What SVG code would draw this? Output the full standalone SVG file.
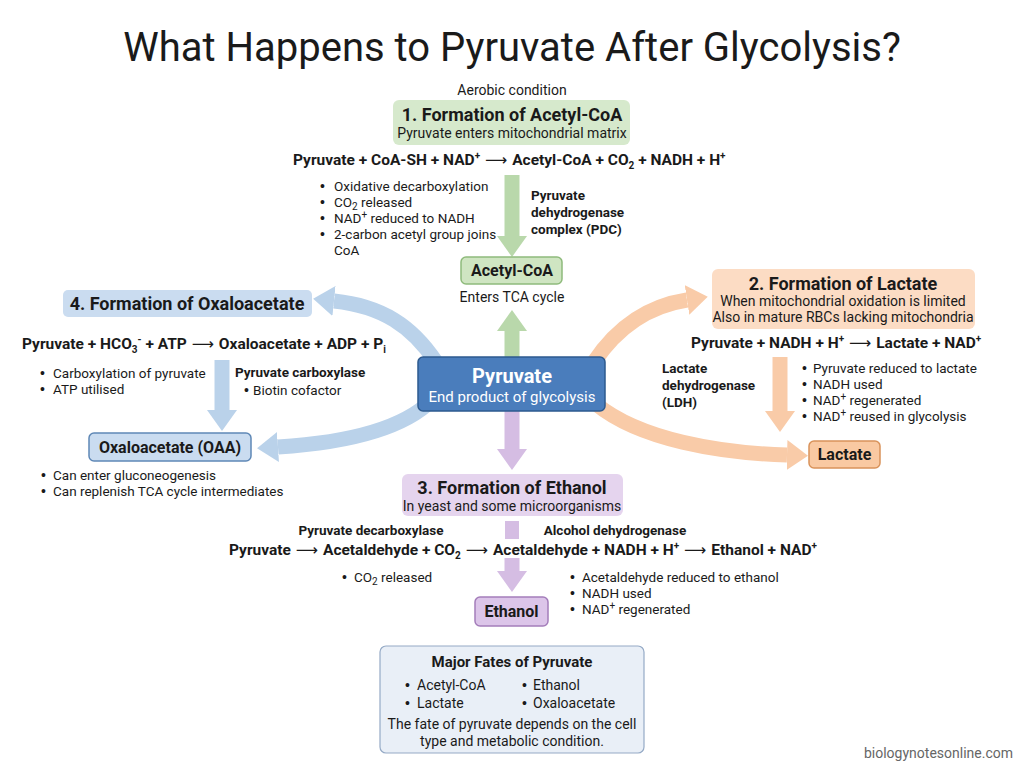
<svg xmlns="http://www.w3.org/2000/svg" width="1024" height="765" viewBox="0 0 1024 765">
<style>
text{font-family:Roboto,"Liberation Sans",sans-serif;fill:#1a1a1a}
.t{font-size:40px}
.h{font-size:18px;font-weight:bold;text-anchor:middle}
.s{font-size:14px;text-anchor:middle}
.eq{font-size:15.5px;font-weight:bold}
.b{font-size:13.5px}
.en{font-size:13.5px;font-weight:bold}
.n{font-size:16px;font-weight:bold;text-anchor:middle}
.m{text-anchor:middle}
.sup{font-size:10px}
.bu{font-family:"Liberation Sans",sans-serif;font-size:14px}
.ar{font-family:"DejaVu Sans",sans-serif;font-weight:normal}
</style>
<defs>
<marker id="hg" markerUnits="userSpaceOnUse" markerWidth="24" markerHeight="32" viewBox="0 -16 24 32" refX="0" refY="0" orient="auto"><path d="M0,-15 L21,0 L0,15 z" fill="#b9d8ab"/></marker>
<marker id="hb" markerUnits="userSpaceOnUse" markerWidth="24" markerHeight="32" viewBox="0 -16 24 32" refX="0" refY="0" orient="auto"><path d="M0,-15 L21,0 L0,15 z" fill="#bad2ea"/></marker>
<marker id="ho" markerUnits="userSpaceOnUse" markerWidth="24" markerHeight="32" viewBox="0 -16 24 32" refX="0" refY="0" orient="auto"><path d="M0,-15 L21,0 L0,15 z" fill="#f9cba8"/></marker>
<marker id="hp" markerUnits="userSpaceOnUse" markerWidth="24" markerHeight="32" viewBox="0 -16 24 32" refX="0" refY="0" orient="auto"><path d="M0,-15 L21,0 L0,15 z" fill="#d5bde3"/></marker>
</defs>
<rect width="1024" height="765" fill="#ffffff"/>
<text class="t m" x="512" y="61">What Happens to Pyruvate After Glycolysis?</text>

<g id="connectors" fill="none" stroke-width="15">
<path d="M512,175 V236" stroke="#b9d8ab" marker-end="url(#hg)"/>
<path d="M512,357 V331" stroke="#b9d8ab" marker-end="url(#hg)"/>
<path d="M512,411 V449" stroke="#d5bde3" marker-end="url(#hp)"/>
<rect x="505" y="521" width="14" height="18" fill="#d5bde3" stroke="none"/>
<path d="M512,558 V571" stroke="#d5bde3" marker-end="url(#hp)"/>
<path d="M222,360 V410" stroke="#bad2ea" marker-end="url(#hb)"/>
<path d="M780,357 V411" stroke="#f9cba8" marker-end="url(#ho)"/>
<path d="M436,362 C412,326 382,306 334,301" stroke="#bad2ea" marker-end="url(#hb)"/>
<path d="M432,400 C402,430 342,443 278,447" stroke="#bad2ea" marker-end="url(#hb)"/>
<path d="M594,362 C618,326 648,306 687,300" stroke="#f9cba8" marker-end="url(#ho)"/>
<path d="M596,404 C640,440 720,453 787,455" stroke="#f9cba8" marker-end="url(#ho)"/>
</g>

<g id="acetyl-section">
<text class="s" x="512" y="95">Aerobic condition</text>
<rect x="393" y="100" width="237" height="45" rx="6" fill="#d6e9cc"/>
<text class="h" x="512" y="121">1. Formation of Acetyl-CoA</text>
<text class="s" x="512" y="138">Pyruvate enters mitochondrial matrix</text>
<text class="eq" x="293" y="165">Pyruvate + CoA-SH + NAD<tspan class="sup" dy="-6">+</tspan><tspan dy="6" class="ar"> ⟶ </tspan>Acetyl-CoA + CO<tspan class="sup" dy="4">2</tspan><tspan dy="-4"> + NADH + H</tspan><tspan class="sup" dy="-6">+</tspan></text>
<text class="b" x="320" y="191"><tspan class="bu">•</tspan><tspan x="334">Oxidative decarboxylation</tspan></text>
<text class="b" x="320" y="207"><tspan class="bu">•</tspan><tspan x="334">CO</tspan><tspan class="sup" dy="3">2</tspan><tspan dy="-3"> released</tspan></text>
<text class="b" x="320" y="223"><tspan class="bu">•</tspan><tspan x="334">NAD</tspan><tspan class="sup" dy="-5">+</tspan><tspan dy="5"> reduced to NADH</tspan></text>
<text class="b" x="320" y="239"><tspan class="bu">•</tspan><tspan x="334">2-carbon acetyl group joins</tspan></text>
<text class="b" x="334" y="255">CoA</text>
<text class="en" x="531" y="200">Pyruvate</text>
<text class="en" x="531" y="217">dehydrogenase</text>
<text class="en" x="531" y="234">complex (PDC)</text>
</g>

<g id="acetyl-coa">
<rect x="461" y="257" width="101" height="27" rx="5" fill="#cfe5c2" stroke="#8fbb7c" stroke-width="1.5"/>
<text class="n" x="512" y="276">Acetyl-CoA</text>
<text class="s" x="512" y="302">Enters TCA cycle</text>
</g>

<g id="pyruvate">
<rect x="418" y="357" width="187" height="54" rx="5" fill="#4a7dbc" stroke="#2d5a8e" stroke-width="1.5"/>
<text class="m" x="512" y="383" style="font-size:20px;font-weight:bold;fill:#ffffff">Pyruvate</text>
<text class="m" x="512" y="402" style="font-size:15px;fill:#ffffff">End product of glycolysis</text>
</g>

<g id="oxaloacetate-section">
<rect x="63" y="290" width="249" height="27" rx="5" fill="#cadcf0"/>
<text class="h" x="187" y="310">4. Formation of Oxaloacetate</text>
<text class="eq" x="22" y="349">Pyruvate + HCO<tspan class="sup" dy="4">3</tspan><tspan class="sup" dy="-10">-</tspan><tspan dy="6"> + ATP</tspan><tspan class="ar"> ⟶ </tspan>Oxaloacetate + ADP + P<tspan class="sup" dy="4">i</tspan></text>
<text class="b" x="40" y="378"><tspan class="bu">•</tspan><tspan x="53">Carboxylation of pyruvate</tspan></text>
<text class="b" x="40" y="394"><tspan class="bu">•</tspan><tspan x="53">ATP utilised</tspan></text>
<text class="en" x="235" y="377">Pyruvate carboxylase</text>
<text class="b" x="244" y="395"><tspan class="bu">•</tspan><tspan x="253">Biotin cofactor</tspan></text>
</g>

<g id="oaa">
<rect x="89" y="433" width="162" height="28" rx="5" fill="#cadcf0" stroke="#5f88b6" stroke-width="1.5"/>
<text class="n" x="170" y="453">Oxaloacetate (OAA)</text>
<text class="b" x="41" y="480"><tspan class="bu">•</tspan><tspan x="53">Can enter gluconeogenesis</tspan></text>
<text class="b" x="41" y="496"><tspan class="bu">•</tspan><tspan x="53">Can replenish TCA cycle intermediates</tspan></text>
</g>

<g id="lactate-section">
<rect x="712" y="269" width="263" height="60" rx="6" fill="#fcdcc4"/>
<text class="h" x="843" y="290">2. Formation of Lactate</text>
<text class="s" x="843" y="306">When mitochondrial oxidation is limited</text>
<text class="s" x="843" y="322">Also in mature RBCs lacking mitochondria</text>
<text class="eq" x="691" y="348">Pyruvate + NADH + H<tspan class="sup" dy="-6">+</tspan><tspan dy="6" class="ar"> ⟶ </tspan>Lactate + NAD<tspan class="sup" dy="-6">+</tspan></text>
<text class="en" x="662" y="373">Lactate</text>
<text class="en" x="662" y="390">dehydrogenase</text>
<text class="en" x="662" y="407">(LDH)</text>
<text class="b" x="802" y="373"><tspan class="bu">•</tspan><tspan x="813">Pyruvate reduced to lactate</tspan></text>
<text class="b" x="802" y="389"><tspan class="bu">•</tspan><tspan x="813">NADH used</tspan></text>
<text class="b" x="802" y="405"><tspan class="bu">•</tspan><tspan x="813">NAD</tspan><tspan class="sup" dy="-5">+</tspan><tspan dy="5"> regenerated</tspan></text>
<text class="b" x="802" y="421"><tspan class="bu">•</tspan><tspan x="813">NAD</tspan><tspan class="sup" dy="-5">+</tspan><tspan dy="5"> reused in glycolysis</tspan></text>
</g>

<g id="lactate">
<rect x="809" y="441" width="71" height="27" rx="5" fill="#f9c9a2" stroke="#d9935b" stroke-width="1.5"/>
<text class="n" x="844.5" y="460">Lactate</text>
</g>

<g id="ethanol-section">
<rect x="402" y="474" width="221" height="42" rx="6" fill="#e5d4ee"/>
<text class="h" x="512" y="494">3. Formation of Ethanol</text>
<text class="s" x="512" y="511">In yeast and some microorganisms</text>
<text class="en m" x="371" y="535">Pyruvate decarboxylase</text>
<text class="en m" x="615" y="535">Alcohol dehydrogenase</text>
<text class="eq" x="229" y="555">Pyruvate<tspan class="ar"> ⟶ </tspan>Acetaldehyde + CO<tspan class="sup" dy="4">2</tspan><tspan dy="-4" class="ar"> ⟶ </tspan>Acetaldehyde + NADH + H<tspan class="sup" dy="-6">+</tspan><tspan dy="6" class="ar"> ⟶ </tspan>Ethanol + NAD<tspan class="sup" dy="-6">+</tspan></text>
<text class="b" x="342" y="582"><tspan class="bu">•</tspan><tspan x="354">CO</tspan><tspan class="sup" dy="3">2</tspan><tspan dy="-3"> released</tspan></text>
<text class="b" x="570" y="582"><tspan class="bu">•</tspan><tspan x="582">Acetaldehyde reduced to ethanol</tspan></text>
<text class="b" x="570" y="598"><tspan class="bu">•</tspan><tspan x="582">NADH used</tspan></text>
<text class="b" x="570" y="614"><tspan class="bu">•</tspan><tspan x="582">NAD</tspan><tspan class="sup" dy="-5">+</tspan><tspan dy="5"> regenerated</tspan></text>
</g>

<g id="ethanol">
<rect x="475" y="597" width="73" height="29" rx="5" fill="#dcc5e9" stroke="#a47dba" stroke-width="1.5"/>
<text class="n" x="511.5" y="617">Ethanol</text>
</g>

<g id="summary">
<rect x="380" y="646" width="264" height="107" rx="6" fill="#e9eff7" stroke="#95aac6" stroke-width="1.2"/>
<text class="m" x="512" y="667" style="font-size:15px;font-weight:bold">Major Fates of Pyruvate</text>
<text x="405" y="690" style="font-size:14px"><tspan class="bu">•</tspan><tspan x="417">Acetyl-CoA</tspan></text>
<text x="405" y="708" style="font-size:14px"><tspan class="bu">•</tspan><tspan x="417">Lactate</tspan></text>
<text x="522" y="690" style="font-size:14px"><tspan class="bu">•</tspan><tspan x="533">Ethanol</tspan></text>
<text x="522" y="708" style="font-size:14px"><tspan class="bu">•</tspan><tspan x="533">Oxaloacetate</tspan></text>
<text class="m" x="512" y="729" style="font-size:14px">The fate of pyruvate depends on the cell</text>
<text class="m" x="512" y="746" style="font-size:14px">type and metabolic condition.</text>
</g>

<text x="1013" y="758" style="font-size:14px;fill:#666;text-anchor:end">biologynotesonline.com</text>
</svg>
